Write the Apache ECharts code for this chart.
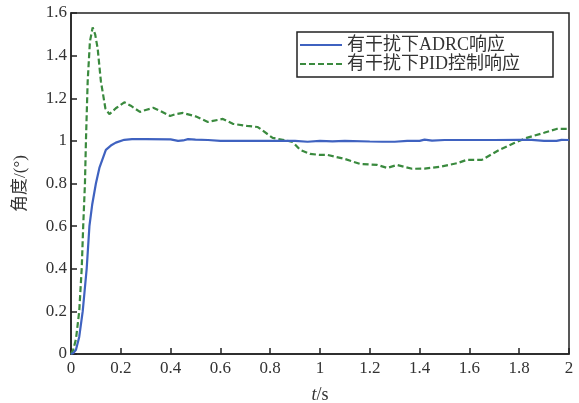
<!DOCTYPE html>
<html>
<head>
<meta charset="utf-8">
<script src="https://cdn.jsdelivr.net/npm/echarts@6/dist/echarts.min.js"></script>
<style>html,body{margin:0;padding:0;background:#fff;}#c{width:579px;height:403px;}</style>
</head>
<body>
<div id="c"></div>
<script>
var seriesNames = ['有干扰下ADRC响应', '有干扰下PID控制响应'];
var adrcT = [0, 0.01, 0.02, 0.033, 0.047, 0.063, 0.074, 0.085, 0.1, 0.114, 0.14, 0.16, 0.18, 0.214, 0.245, 0.3, 0.4, 0.43, 0.45, 0.47, 0.5, 0.55, 0.6, 0.7, 0.8, 0.9, 0.95, 1.0, 1.05, 1.1, 1.2, 1.25, 1.3, 1.35, 1.4, 1.42, 1.45, 1.5, 1.6, 1.7, 1.8, 1.85, 1.9, 1.95, 1.97, 2.0];
var adrcV = [0, 0.005, 0.02, 0.08, 0.2, 0.4, 0.6, 0.7, 0.8, 0.873, 0.958, 0.978, 0.992, 1.005, 1.008, 1.008, 1.007, 1.0, 1.002, 1.008, 1.006, 1.004, 1.0, 1.0, 1.0, 1.0, 0.996, 1.0, 0.998, 1.0, 0.997, 0.996, 0.996, 1.0, 1.0, 1.006, 1.001, 1.004, 1.004, 1.004, 1.005, 1.005, 1.0, 1.0, 1.005, 1.004];
var pidT = [0, 0.009, 0.02, 0.033, 0.043, 0.049, 0.056, 0.06, 0.067, 0.076, 0.087, 0.097, 0.107, 0.12, 0.138, 0.154, 0.18, 0.214, 0.24, 0.277, 0.3, 0.33, 0.36, 0.398, 0.42, 0.45, 0.5, 0.55, 0.61, 0.65, 0.707, 0.75, 0.81, 0.85, 0.89, 0.92, 0.96, 1.0, 1.03, 1.1, 1.16, 1.23, 1.27, 1.31, 1.37, 1.42, 1.48, 1.55, 1.59, 1.65, 1.72, 1.78, 1.83, 1.9, 1.95, 2.0];
var pidV = [0, 0.02, 0.07, 0.2, 0.4, 0.6, 0.8, 1.0, 1.28, 1.466, 1.532, 1.5, 1.434, 1.28, 1.153, 1.125, 1.153, 1.181, 1.165, 1.136, 1.145, 1.155, 1.14, 1.117, 1.125, 1.131, 1.115, 1.089, 1.103, 1.08, 1.07, 1.065, 1.014, 1.005, 0.995, 0.958, 0.939, 0.934, 0.934, 0.915, 0.892, 0.887, 0.873, 0.887, 0.869, 0.87, 0.878, 0.895, 0.911, 0.911, 0.958, 0.99, 1.014, 1.038, 1.056, 1.056];

function pairs(t, v) { return t.map(function (x, i) { return [x, v[i]]; }); }

var FONT = "'Liberation Serif','Times New Roman','Noto Sans CJK SC',serif";
var chart = echarts.init(document.getElementById('c'), null, { renderer: 'canvas' });
chart.setOption({
  animation: false,
  backgroundColor: '#fff',
  grid: { left: 71, right: 10, top: 13, bottom: 49, containLabel: false, outerBoundsMode: 'none',
    show: true, borderColor: '#222', borderWidth: 1.5, backgroundColor: 'transparent' },
  legend: {
    orient: 'vertical', left: 297, top: 32,
    itemWidth: 42, itemHeight: 18, itemGap: 1,
    padding: [4, 33, 4, 2],
    borderColor: '#222', borderWidth: 1.5, backgroundColor: '#fff',
    itemStyle: { opacity: 0 },
    textStyle: { fontFamily: FONT, fontSize: 18, color: '#333' },
    data: seriesNames
  },
  xAxis: {
    type: 'value', min: 0, max: 2, interval: 0.2,
    name: '{i|t}/s', nameLocation: 'middle', nameGap: 32,
    nameTextStyle: { fontFamily: FONT, fontSize: 18, color: '#333', rich: { i: { fontFamily: FONT, fontSize: 18, fontStyle: 'italic', color: '#333' } } },
    axisLine: { show: true, lineStyle: { color: '#222', width: 1.5 } },
    axisTick: { show: true, inside: true, length: 6, lineStyle: { color: '#222', width: 1.5 } },
    axisLabel: { fontFamily: FONT, fontSize: 17, color: '#333', margin: 6 },
    splitLine: { show: false }
  },
  yAxis: {
    type: 'value', min: 0, max: 1.6, interval: 0.2,
    name: '角度/(°)', nameLocation: 'middle', nameGap: 42,
    nameTextStyle: { fontFamily: FONT, fontSize: 17, color: '#333' },
    axisLine: { show: true, lineStyle: { color: '#222', width: 1.5 } },
    axisTick: { show: true, inside: true, length: 6, lineStyle: { color: '#222', width: 1.5 } },
    axisLabel: { fontFamily: FONT, fontSize: 17, color: '#333', margin: 4 },
    splitLine: { show: false }
  },
  series: [
    { name: seriesNames[0], type: 'line', data: pairs(adrcT, adrcV), symbol: 'none', smooth: false,
      lineStyle: { color: '#3F62C0', width: 2.2 }, itemStyle: { color: '#3F62C0' }, z: 3 },
    { name: seriesNames[1], type: 'line', data: pairs(pidT, pidV), symbol: 'none', smooth: false,
      lineStyle: { color: '#3A8A3E', width: 2.2, type: [6, 3] }, itemStyle: { color: '#3A8A3E' }, z: 2 }
  ]
});
</script>
</body>
</html>
